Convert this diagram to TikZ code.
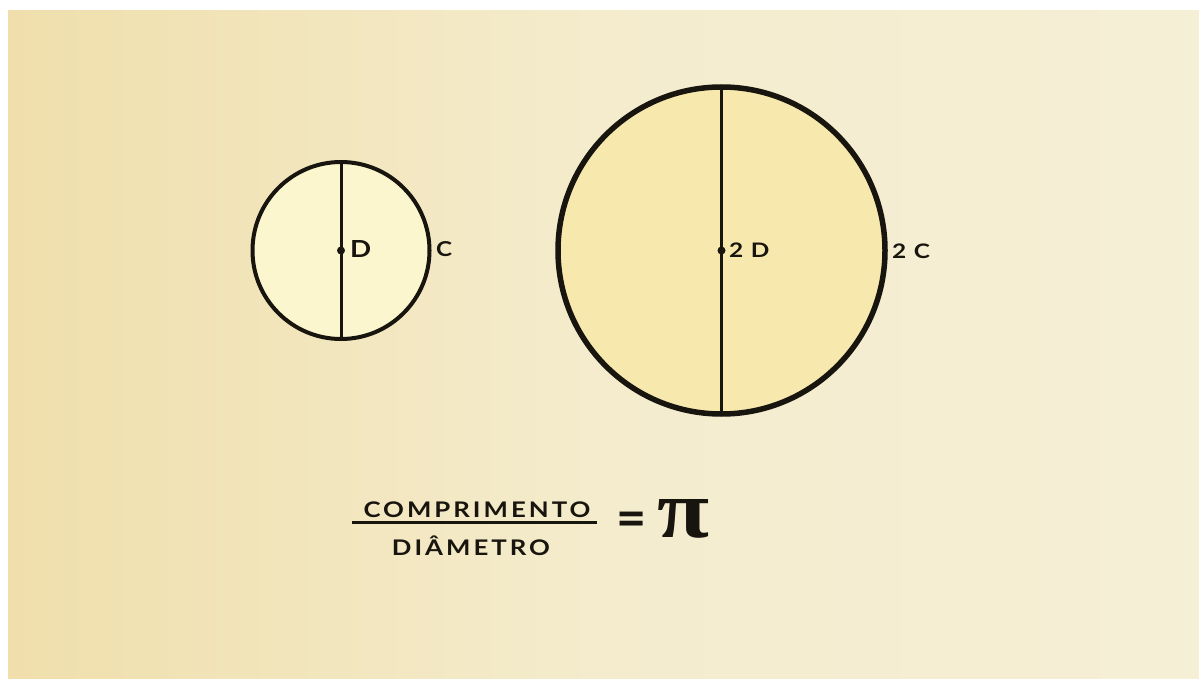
\documentclass[tikz,border=0pt]{standalone}
\usepackage{fontspec}
\usepackage{graphicx}
\newfontfamily\labfont[FakeStretch=1.2,LetterSpace=14]{Lato}
\newfontfamily\cfont[FakeStretch=1.18,LetterSpace=22]{Lato}
\newfontfamily\tfont[FakeStretch=1.22,LetterSpace=38]{Lato}
\newfontfamily\smfont{Lato}
\newfontfamily\pifont{Liberation Serif}
\definecolor{paperL}{RGB}{240,223,172}
\definecolor{paperM}{RGB}{244,236,205}
\definecolor{paperR}{RGB}{245,239,214}
\definecolor{smallfill}{RGB}{251,246,206}
\definecolor{bigfill}{RGB}{247,233,174}
\definecolor{ink}{RGB}{24,20,14}
\tikzset{
  circ/.style={draw=ink},
  diam/.style={draw=ink, line width=3pt},
  dotc/.style={fill=ink, draw=none, circle, minimum size=8pt, inner sep=0pt},
  lbl/.style={text=ink, inner sep=0pt, anchor=west, font=\cfont\bfseries\fontsize{23.5}{24}\selectfont},
  smc/.style={text=ink, inner sep=0pt, anchor=west, font=\cfont\bfseries\fontsize{20.5}{21}\selectfont},
  two/.style={text=ink, inner sep=0pt, anchor=west, font=\tfont\bfseries\fontsize{20}{21}\selectfont},
  frac/.style={text=ink, inner sep=0pt, anchor=base, font=\labfont\bfseries\fontsize{21.5}{22}\selectfont}
}
\begin{document}
\begin{tikzpicture}[x=1pt,y=-1pt]
\useasboundingbox (0,0) rectangle (1199,679);
\fill[white] (0,0) rectangle (1199,679);
\shade[left color=paperL, right color=paperR, middle color=paperM] (8,11) rectangle (1199,679);
% small circle
\draw[circ, line width=4pt, fill=smallfill] (341,250.5) circle (88.5);
\coordinate (st) at (341,162);
\coordinate (sb) at (341,339);
\draw[diam] (st) -- (sb);
\node[dotc] (sc) at (341,250.5) {};
\node[lbl] (sD) at (350,249) {D};
\node[smc] (sC) at (436,249) {C};
% big circle
\draw[circ, line width=5.5pt, fill=bigfill] (721.5,250.5) circle (163.5);
\coordinate (bt) at (721.5,87);
\coordinate (bb) at (721.5,414);
\draw[diam] (bt) -- (bb);
\node[dotc] (bc) at (721.5,250.5) {};
\node[two] (bD) at (729,250) {2D};
\node[two] (bC) at (892,251) {2C};
% formula
\node[frac] (num) at (477,517) {COMPRIMENTO};
\node[frac] (den) at (471,555) {DIÂMETRO};
\coordinate (fl) at (352,522.5);
\coordinate (fr) at (597,522.5);
\draw[draw=ink, line width=3pt] (fl) -- (fr);
\node[text=ink, inner sep=0pt, font=\smfont\bfseries\fontsize{52}{52}\selectfont] (eq) at (631.5,524) {=};
\node[text=ink, inner sep=0pt] (pi) at (684,519) {\resizebox{52pt}{38pt}{\pifont\bfseries π}};
\end{tikzpicture}
\end{document}
